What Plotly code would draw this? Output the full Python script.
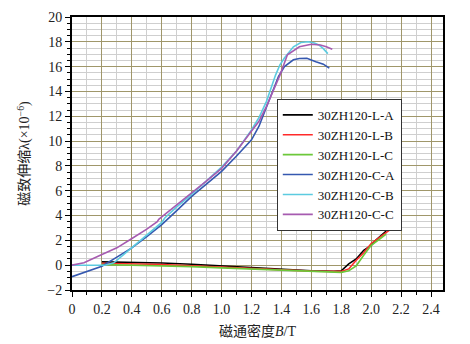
import plotly.graph_objects as go

# ---- data ----
la_b = [0.2, 0.4, 0.6, 0.8, 1.0, 1.2, 1.4, 1.6, 1.75, 1.8, 1.85, 1.9, 1.95, 1.98, 2.0, 2.03, 2.06, 2.1]
la_v = [0.27, 0.25, 0.18, 0.08, -0.05, -0.2, -0.35, -0.45, -0.5, -0.45, 0.1, 0.5, 1.2, 1.45, 1.6, 2.0, 2.3, 2.75]

lb_b = [0.2, 0.4, 0.6, 0.8, 1.0, 1.2, 1.4, 1.6, 1.8, 1.85, 1.9, 1.95, 2.0, 2.05, 2.1, 2.12]
lb_v = [0.15, 0.12, 0.05, -0.05, -0.15, -0.25, -0.38, -0.48, -0.5, -0.3, 0.4, 1.0, 1.75, 2.2, 2.65, 2.8]

lc_b = [0.2, 0.4, 0.6, 0.8, 1.0, 1.2, 1.4, 1.6, 1.8, 1.85, 1.9, 1.95, 2.0, 2.05, 2.1]
lc_v = [0.05, 0.0, -0.05, -0.12, -0.22, -0.32, -0.42, -0.5, -0.58, -0.45, -0.05, 0.8, 1.6, 2.05, 2.5]

ca_b = [0, 0.1, 0.2, 0.3, 0.4, 0.5, 0.6, 0.7, 0.8, 0.9, 1.0, 1.1, 1.2, 1.25, 1.3, 1.35, 1.38, 1.42,
        1.48, 1.52, 1.57, 1.63, 1.68, 1.72]
ca_v = [-0.93, -0.5, -0.08, 0.65, 1.4, 2.3, 3.27, 4.4, 5.55, 6.55, 7.56, 8.8, 10.1, 11.2, 12.7, 14.3, 15.2, 16.0,
        16.55, 16.65, 16.68, 16.4, 16.2, 15.88]

cb_b = [0, 0.1, 0.17, 0.22, 0.28, 0.4, 0.5, 0.6, 0.62, 0.7, 0.8, 0.9, 1.0, 1.1, 1.2, 1.25, 1.3, 1.34,
        1.36, 1.39, 1.42, 1.48, 1.53, 1.58, 1.62, 1.65, 1.68, 1.71]
cb_v = [0, -0.02, -0.05, 0.0, 0.19, 1.4, 2.45, 3.45, 3.8, 4.7, 5.7, 6.8, 7.9, 9.2, 10.9, 11.9, 13.2, 14.6,
        15.3, 16.15, 16.7, 17.6, 17.95, 18.0, 17.9, 17.75, 17.45, 17.05]

cc_b = [0, 0.08, 0.2, 0.3, 0.39, 0.5, 0.57, 0.58, 0.6, 0.7, 0.8, 0.9, 1.0, 1.1, 1.19, 1.25, 1.3, 1.35,
        1.39, 1.44, 1.52, 1.6, 1.66, 1.7, 1.74]
cc_v = [0, 0.19, 0.86, 1.4, 2.07, 2.9, 3.5, 3.7, 3.9, 4.85, 5.82, 6.8, 7.8, 9.2, 10.65, 11.6, 12.8, 14.2,
        15.3, 16.95, 17.6, 17.8, 17.75, 17.6, 17.4]

names = ["30ZH120-L-A", "30ZH120-L-B", "30ZH120-L-C", "30ZH120-C-A", "30ZH120-C-B", "30ZH120-C-C"]
colors = ["#000000", "#ff2a2a", "#6cc83a", "#3558b0", "#5ccbe0", "#a65bb0"]
series = [(la_b, la_v), (lb_b, lb_v), (lc_b, lc_v), (ca_b, ca_v), (cb_b, cb_v), (cc_b, cc_v)]

x_ticks = [0, 0.2, 0.4, 0.6, 0.8, 1.0, 1.2, 1.4, 1.6, 1.8, 2.0, 2.2, 2.4]
x_labels = ["0", "0.2", "0.4", "0.6", "0.8", "1.0", "1.2", "1.4", "1.6", "1.8", "2.0", "2.2", "2.4"]

FONT = "Liberation Serif, Times New Roman, Noto Sans CJK SC, serif"

fig = go.Figure()
for (bx, by), n, c in zip(series, names, colors):
    fig.add_trace(go.Scatter(x=bx, y=by, mode="lines", name=n,
                             line=dict(color=c, width=1.6)))

major_grid = "#a0976a"
minor_grid = "#cfcfcf"

fig.update_layout(
    width=470, height=344,
    margin=dict(l=72, r=27, t=17, b=54, autoexpand=False),
    paper_bgcolor="white", plot_bgcolor="white",
    font=dict(family=FONT, size=14, color="#222"),
    showlegend=True,
    legend=dict(x=0.552, y=0.70, xanchor="left", yanchor="top",
                bgcolor="white", bordercolor="#333", borderwidth=1,
                font=dict(family=FONT, size=13, color="#111"),
                tracegroupgap=0, itemwidth=30),
    xaxis=dict(range=[0, 2.48], tickvals=x_ticks, ticktext=x_labels, automargin=True,
               showgrid=True, gridcolor=major_grid, gridwidth=1,
               minor=dict(dtick=0.1, showgrid=True, gridcolor=minor_grid, gridwidth=1,
                          ticks="outside", ticklen=3, tickcolor="black"),
               ticks="outside", ticklen=5, tickcolor="black",
               showline=True, linecolor="black", linewidth=2, mirror=True,
               zeroline=False,
               tickfont=dict(family=FONT, size=14),
               title=dict(text="磁通密度<i>B</i>/T", font=dict(family=FONT, size=14), standoff=10)),
    yaxis=dict(range=[-2, 20], dtick=2, tick0=0, automargin=True,
               showgrid=True, gridcolor=major_grid, gridwidth=1,
               minor=dict(dtick=0.5, showgrid=True, gridcolor=minor_grid, gridwidth=1,
                          ticks="outside", ticklen=3, tickcolor="black"),
               ticks="outside", ticklen=5, tickcolor="black",
               showline=True, linecolor="black", linewidth=2, mirror=True,
               zeroline=False,
               tickfont=dict(family=FONT, size=14),
               title=dict(text="磁致伸缩λ(×10<sup>−6</sup>)", font=dict(family=FONT, size=14), standoff=14)),
)

fig.write_html("out.html")
